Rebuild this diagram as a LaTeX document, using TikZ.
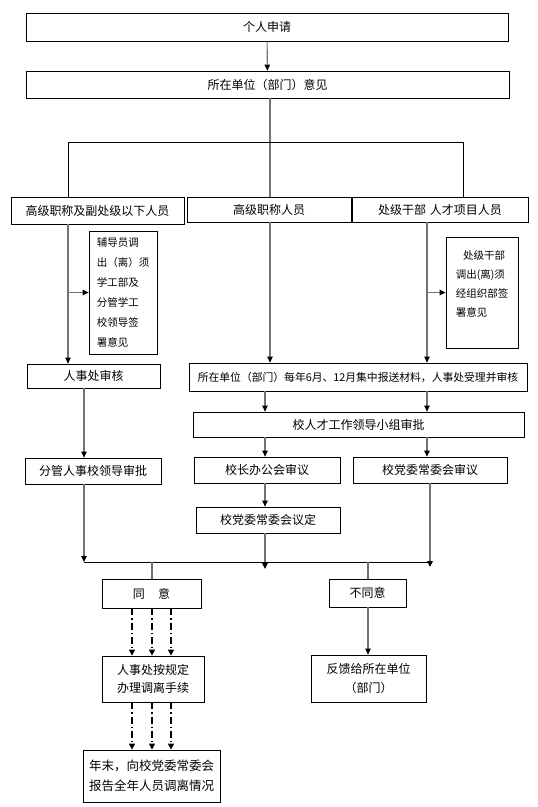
\documentclass[tikz,border=0pt]{standalone}
\usepackage{fontspec}
\setmainfont{Noto Sans CJK SC}
\usetikzlibrary{arrows.meta}
\tikzset{
  box/.style={draw=black, line width=0.8pt, inner sep=0pt, align=center, font=\fontsize{12}{14}\selectfont},
  conn/.style={draw=black!55, line width=1.1pt},
  hconn/.style={draw=black, line width=0.7pt},
  arr/.style={conn, -{Triangle[width=5.5pt,length=6pt,color=black,fill=black]}},
  darr/.style={draw=black, line width=1.3pt, dash pattern=on 7pt off 3pt on 1.2pt off 3pt, -{Triangle[width=6pt,length=6pt]}},
}
\begin{document}
\begin{tikzpicture}[x=1pt,y=-1pt]
\path[use as bounding box] (0,0) rectangle (538,807);
% column coordinates
\coordinate (xL) at (68,0);
\coordinate (xLL) at (84,0);
\coordinate (xM) at (270,0);
\coordinate (xM2) at (265,0);
\coordinate (xR) at (463,0);
\coordinate (xR2) at (427,0);
\coordinate (xR3) at (430,0);
\coordinate (xA) at (132,0);
\coordinate (xB) at (152,0);
\coordinate (xC) at (171,0);
\coordinate (xN) at (368,0);
\coordinate (yH) at (0,142);
\coordinate (yJ) at (0,562);

\node[box, minimum width=482, minimum height=28] (a) at (267,27) {个人申请};
\node[box, minimum width=483, minimum height=27] (b) at (267.5,84.5) {所在单位（部门）意见};
\node[box, minimum width=173, minimum height=27] (c1) at (97.5,210.5) {高级职称及副处级以下人员};
\node[box, minimum width=164, minimum height=25] (c2) at (269,209.5) {高级职称人员};
\node[box, minimum width=176, minimum height=25] (c3) at (440,209.5) {处级干部\hspace{0.3em}人才项目人员};
\node[box, minimum width=68, minimum height=123, align=left, font=\fontsize{10.5}{20}\selectfont] (s1) at (123,292.5) {辅导员调\\出（离）须\\学工部及\\分管学工\\校领导签\\署意见};
\node[box, minimum width=72, minimum height=111, align=left, font=\fontsize{10.5}{19}\selectfont, text depth=18pt] (s2) at (482,292.5) {\hspace{0.7em}处级干部\\调出(离)须\\经组织部签\\署意见};
\node[box, minimum width=133, minimum height=24] (d1) at (93.5,376) {人事处审核};
\node[box, minimum width=338, minimum height=28, font=\fontsize{10.8}{13}\selectfont] (d2) at (358,377) {所在单位（部门）每年6月、12月集中报送材料，人事处受理并审核};
\node[box, minimum width=331, minimum height=25] (e) at (358.5,424.5) {校人才工作领导小组审批};
\node[box, minimum width=136, minimum height=26] (f1) at (93,471) {分管人事校领导审批};
\node[box, minimum width=146, minimum height=26] (f2) at (267,470) {校长办公会审议};
\node[box, minimum width=154, minimum height=26] (f3) at (430,470) {校党委常委会审议};
\node[box, minimum width=144, minimum height=26] (g) at (268,520) {校党委常委会议定};
\node[box, minimum width=99, minimum height=29] (h1) at (151.5,593.5) {同\hspace{1.1em}意};
\node[box, minimum width=77, minimum height=28] (h2) at (367.5,593) {不同意};
\node[box, minimum width=102, minimum height=46, font=\fontsize{12}{18}\selectfont] (i1) at (153,679) {人事处按规定\\办理调离手续};
\node[box, minimum width=115, minimum height=47, font=\fontsize{12}{19}\selectfont] (i2) at (368.5,678.5) {反馈给所在单位\\（部门）};
\node[box, minimum width=137, minimum height=52, font=\fontsize{12.5}{20}\selectfont] (j) at (151.5,776) {年末，向校党委常委会\\报告全年人员调离情况};

% top
\draw[arr] (a) -- (b);
\draw[conn] (b.south -| xM) -- (c2.north -| xM);
\draw[hconn] (c1.north -| xL) -- (xL |- yH) -- (xR |- yH) -- (c3.north -| xR);
% left column
\draw[arr] (c1.south -| xL) -- (d1.north -| xL);
\draw[arr] (xL |- s1.west) -- (s1.west);
\draw[arr] (d1.south -| xLL) -- (f1.north -| xLL);
\draw[arr] (f1.south -| xLL) -- (xLL |- yJ);
% middle and right
\draw[arr] (c2.south -| xM) -- (d2.north -| xM);
\draw[arr] (c3.south -| xR2) -- (d2.north -| xR2);
\draw[arr] (xR2 |- s2.west) -- (s2.west);
\draw[arr] (d2.south -| xM2) -- (e.north -| xM2);
\draw[arr] (d2.south -| xR2) -- (e.north -| xR2);
\draw[arr] (e.south -| xM2) -- (f2.north -| xM2);
\draw[arr] (e.south -| xR2) -- (f3.north -| xR2);
\draw[arr] (f2.south -| xM2) -- (g.north -| xM2);
\draw[arr] (g.south -| xM2) -- ([yshift=-7pt]xM2 |- yJ);
\draw[arr] (f3.south -| xR3) -- ([yshift=-5pt]xR3 |- yJ);
\draw[hconn] (xLL |- yJ) -- (xR3 |- yJ);
\draw[conn] (xB |- yJ) -- (h1.north -| xB);
\draw[conn] (xN |- yJ) -- (h2.north -| xN);
% bottom
\foreach \c in {xA,xB,xC}{
  \draw[darr] (h1.south -| \c) -- (i1.north -| \c);
  \draw[darr] (i1.south -| \c) -- (j.north -| \c);
}
\draw[arr] (h2.south -| xN) -- (i2.north -| xN);
\end{tikzpicture}
\end{document}
